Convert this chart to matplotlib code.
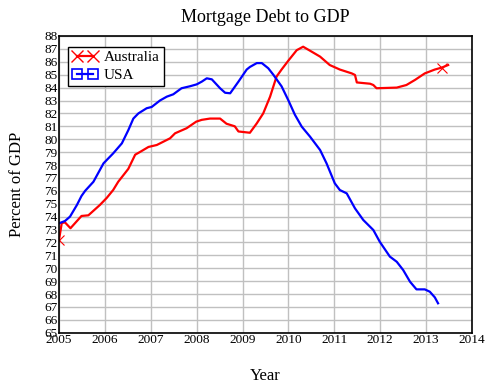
import matplotlib.pyplot as plt

plt.rcParams['font.family'] = ['Liberation Serif', 'DejaVu Serif']

# values
aus_year = [2005.0, 2005.06, 2005.13, 2005.25, 2005.49, 2005.64, 2005.89, 2006.04,
            2006.18, 2006.29, 2006.51, 2006.66, 2006.76, 2006.95, 2007.13, 2007.27,
            2007.42, 2007.53, 2007.78, 2007.99, 2008.11, 2008.29, 2008.51, 2008.65,
            2008.83, 2008.91, 2009.16, 2009.31, 2009.45, 2009.6, 2009.74, 2009.85,
            2010.0, 2010.18, 2010.32, 2010.47, 2010.69, 2010.9, 2011.12, 2011.38,
            2011.45, 2011.49, 2011.78, 2011.85, 2011.92, 2012.36, 2012.57, 2012.76,
            2012.97, 2013.19, 2013.34, 2013.48]
aus_val = [72.2, 73.5, 73.55, 73.1, 74.05, 74.1, 74.9, 75.45,
           76.06, 76.7, 77.7, 78.8, 79.0, 79.4, 79.55, 79.8,
           80.07, 80.46, 80.85, 81.36, 81.5, 81.6, 81.6, 81.2,
           81.0, 80.6, 80.5, 81.23, 82.0, 83.3, 84.85, 85.4,
           86.1, 86.9, 87.17, 86.86, 86.4, 85.75, 85.4, 85.1,
           84.98, 84.4, 84.3, 84.2, 83.95, 84.0, 84.2, 84.6,
           85.1, 85.4, 85.55, 85.75]

usa_year = [2005.0, 2005.13, 2005.24, 2005.39, 2005.49, 2005.57, 2005.75, 2005.97,
            2006.18, 2006.37, 2006.51, 2006.62, 2006.73, 2006.91, 2007.02, 2007.2,
            2007.35, 2007.49, 2007.67, 2007.85, 2008.0, 2008.11, 2008.22, 2008.33,
            2008.51, 2008.62, 2008.73, 2008.91, 2009.09, 2009.16, 2009.31, 2009.42,
            2009.56, 2009.67, 2009.85, 2010.0, 2010.14, 2010.29, 2010.47, 2010.69,
            2010.83, 2011.01, 2011.12, 2011.27, 2011.45, 2011.63, 2011.85, 2011.99,
            2012.21, 2012.36, 2012.5, 2012.65, 2012.79, 2012.97, 2013.08, 2013.19,
            2013.26]
usa_val = [73.48, 73.66, 74.0, 74.9, 75.6, 76.0, 76.7, 78.13,
           78.9, 79.68, 80.7, 81.6, 82.0, 82.4, 82.5, 83.0,
           83.3, 83.48, 83.95, 84.1, 84.25, 84.46, 84.72, 84.64,
           83.95, 83.6, 83.56, 84.46, 85.4, 85.6, 85.9, 85.9,
           85.5, 85.0, 84.1, 83.0, 81.9, 80.97, 80.2, 79.16,
           78.13, 76.58, 76.06, 75.8, 74.64, 73.74, 72.96, 72.05,
           70.9, 70.5, 69.86, 68.95, 68.36, 68.36, 68.18, 67.74,
           67.28]


def do_plot():
    fig = plt.figure(figsize=(4.93, 3.85), dpi=100)
    ax = fig.add_axes([0.1197, 0.1358, 0.8377, 0.7707])
    ax.plot(aus_year, aus_val, '-', color='red', lw=1.6)
    ax.plot([aus_year[0], aus_year[-2]], [aus_val[0], aus_val[-2]], 'x',
            color='red', ms=7, mew=0.8)
    ax.plot(usa_year, usa_val, '-', color='blue', lw=1.6)

    # legend handles with markers
    h1, = ax.plot([], [], '-x', color='red', lw=1.6, ms=8, mew=1)
    h2, = ax.plot([], [], '-s', color='blue', lw=1.6, ms=7, mew=1.2,
                  markerfacecolor='none')
    leg = ax.legend([h1, h2], ['Australia', 'USA'], loc='upper left',
                    numpoints=2, fancybox=False, framealpha=1, fontsize=11,
                    handlelength=1.7, borderpad=0.25, labelspacing=0.3,
                    handletextpad=0.4, borderaxespad=0.6,
                    bbox_to_anchor=(0.0, 0.995))
    leg.get_frame().set_edgecolor('black')
    leg.get_frame().set_linewidth(1)

    ax.set_xlim(2005, 2014)
    ax.set_ylim(65, 88)
    ax.set_xticks(range(2005, 2015))
    ax.set_yticks(range(65, 89))
    ax.tick_params(length=0, labelsize=9.5, pad=1)
    ax.grid(color='#c0c0c0', lw=1)
    ax.set_axisbelow(True)
    for s in ax.spines.values():
        s.set_linewidth(1.2)
    ax.set_title('Mortgage Debt to GDP', fontsize=13, pad=10)
    ax.set_xlabel('Year', fontsize=12, labelpad=16)
    ax.set_ylabel('Percent of GDP', fontsize=12, labelpad=14)
    fig.savefig('out.png', dpi=100)


if __name__ == '__main__':
    do_plot()
